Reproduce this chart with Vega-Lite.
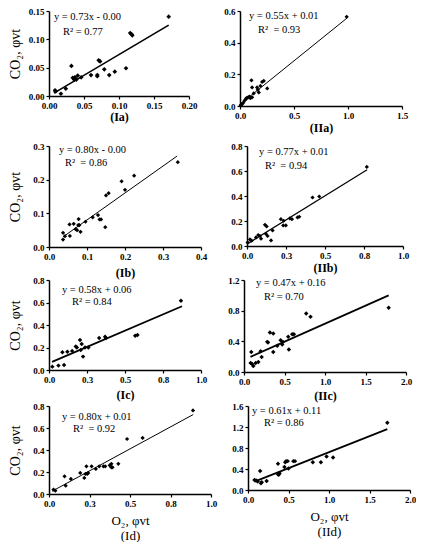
{
  "$schema": "https://vega.github.io/schema/vega-lite/v6.json",
  "description": "CO2 vs O2 scatter panels with linear fits",
  "padding": {"left": 8, "top": 7, "right": 0, "bottom": 0},
  "datasets": {
    "pts": [
      {"panel": "Ia", "x": 0.0086, "y": 0.010}, {"panel": "Ia", "x": 0.0095, "y": 0.008}, {"panel": "Ia", "x": 0.017, "y": 0.004},
      {"panel": "Ia", "x": 0.024, "y": 0.013}, {"panel": "Ia", "x": 0.032, "y": 0.053}, {"panel": "Ia", "x": 0.034, "y": 0.032},
      {"panel": "Ia", "x": 0.036, "y": 0.029}, {"panel": "Ia", "x": 0.037, "y": 0.033}, {"panel": "Ia", "x": 0.039, "y": 0.029},
      {"panel": "Ia", "x": 0.041, "y": 0.036}, {"panel": "Ia", "x": 0.046, "y": 0.033}, {"panel": "Ia", "x": 0.060, "y": 0.037},
      {"panel": "Ia", "x": 0.069, "y": 0.037}, {"panel": "Ia", "x": 0.069, "y": 0.035}, {"panel": "Ia", "x": 0.071, "y": 0.063},
      {"panel": "Ia", "x": 0.073, "y": 0.061}, {"panel": "Ia", "x": 0.079, "y": 0.047}, {"panel": "Ia", "x": 0.086, "y": 0.037},
      {"panel": "Ia", "x": 0.094, "y": 0.043}, {"panel": "Ia", "x": 0.110, "y": 0.049}, {"panel": "Ia", "x": 0.116, "y": 0.111},
      {"panel": "Ia", "x": 0.118, "y": 0.109}, {"panel": "Ia", "x": 0.119, "y": 0.107}, {"panel": "Ia", "x": 0.171, "y": 0.140},

      {"panel": "IIa", "x": 0.006, "y": 0.004}, {"panel": "IIa", "x": 0.012, "y": 0.008}, {"panel": "IIa", "x": 0.019, "y": 0.012},
      {"panel": "IIa", "x": 0.031, "y": 0.021}, {"panel": "IIa", "x": 0.043, "y": 0.035}, {"panel": "IIa", "x": 0.056, "y": 0.045},
      {"panel": "IIa", "x": 0.060, "y": 0.050}, {"panel": "IIa", "x": 0.075, "y": 0.055}, {"panel": "IIa", "x": 0.087, "y": 0.060},
      {"panel": "IIa", "x": 0.096, "y": 0.049}, {"panel": "IIa", "x": 0.106, "y": 0.162}, {"panel": "IIa", "x": 0.112, "y": 0.117},
      {"panel": "IIa", "x": 0.112, "y": 0.055}, {"panel": "IIa", "x": 0.127, "y": 0.080}, {"panel": "IIa", "x": 0.158, "y": 0.117},
      {"panel": "IIa", "x": 0.165, "y": 0.103}, {"panel": "IIa", "x": 0.174, "y": 0.086}, {"panel": "IIa", "x": 0.189, "y": 0.127},
      {"panel": "IIa", "x": 0.205, "y": 0.152}, {"panel": "IIa", "x": 0.220, "y": 0.158}, {"panel": "IIa", "x": 0.252, "y": 0.111},
      {"panel": "IIa", "x": 0.988, "y": 0.563},

      {"panel": "Ib", "x": 0.037, "y": 0.042}, {"panel": "Ib", "x": 0.037, "y": 0.022}, {"panel": "Ib", "x": 0.042, "y": 0.032},
      {"panel": "Ib", "x": 0.055, "y": 0.033}, {"panel": "Ib", "x": 0.054, "y": 0.067}, {"panel": "Ib", "x": 0.065, "y": 0.069},
      {"panel": "Ib", "x": 0.070, "y": 0.053}, {"panel": "Ib", "x": 0.074, "y": 0.050}, {"panel": "Ib", "x": 0.077, "y": 0.065},
      {"panel": "Ib", "x": 0.078, "y": 0.083}, {"panel": "Ib", "x": 0.080, "y": 0.065}, {"panel": "Ib", "x": 0.083, "y": 0.045},
      {"panel": "Ib", "x": 0.096, "y": 0.075}, {"panel": "Ib", "x": 0.115, "y": 0.088}, {"panel": "Ib", "x": 0.129, "y": 0.095},
      {"panel": "Ib", "x": 0.133, "y": 0.082}, {"panel": "Ib", "x": 0.137, "y": 0.082}, {"panel": "Ib", "x": 0.148, "y": 0.059},
      {"panel": "Ib", "x": 0.150, "y": 0.153}, {"panel": "Ib", "x": 0.157, "y": 0.160}, {"panel": "Ib", "x": 0.191, "y": 0.195},
      {"panel": "Ib", "x": 0.200, "y": 0.170}, {"panel": "Ib", "x": 0.224, "y": 0.212}, {"panel": "Ib", "x": 0.339, "y": 0.252},

      {"panel": "IIb", "x": 0.004, "y": 0.029}, {"panel": "IIb", "x": 0.019, "y": 0.053}, {"panel": "IIb", "x": 0.030, "y": 0.043},
      {"panel": "IIb", "x": 0.058, "y": 0.069}, {"panel": "IIb", "x": 0.072, "y": 0.088}, {"panel": "IIb", "x": 0.083, "y": 0.080},
      {"panel": "IIb", "x": 0.090, "y": 0.059}, {"panel": "IIb", "x": 0.115, "y": 0.170}, {"panel": "IIb", "x": 0.126, "y": 0.157},
      {"panel": "IIb", "x": 0.122, "y": 0.096}, {"panel": "IIb", "x": 0.132, "y": 0.080}, {"panel": "IIb", "x": 0.154, "y": 0.045},
      {"panel": "IIb", "x": 0.164, "y": 0.125}, {"panel": "IIb", "x": 0.217, "y": 0.215}, {"panel": "IIb", "x": 0.232, "y": 0.165},
      {"panel": "IIb", "x": 0.235, "y": 0.202}, {"panel": "IIb", "x": 0.249, "y": 0.165}, {"panel": "IIb", "x": 0.275, "y": 0.221},
      {"panel": "IIb", "x": 0.288, "y": 0.215}, {"panel": "IIb", "x": 0.324, "y": 0.229}, {"panel": "IIb", "x": 0.335, "y": 0.234},
      {"panel": "IIb", "x": 0.420, "y": 0.388}, {"panel": "IIb", "x": 0.463, "y": 0.396}, {"panel": "IIb", "x": 0.768, "y": 0.633},

      {"panel": "Ic", "x": 0.022, "y": 0.030}, {"panel": "Ic", "x": 0.062, "y": 0.039}, {"panel": "Ic", "x": 0.099, "y": 0.044},
      {"panel": "Ic", "x": 0.088, "y": 0.157}, {"panel": "Ic", "x": 0.121, "y": 0.163}, {"panel": "Ic", "x": 0.152, "y": 0.170},
      {"panel": "Ic", "x": 0.176, "y": 0.210}, {"panel": "Ic", "x": 0.183, "y": 0.200}, {"panel": "Ic", "x": 0.204, "y": 0.267},
      {"panel": "Ic", "x": 0.209, "y": 0.178}, {"panel": "Ic", "x": 0.215, "y": 0.231}, {"panel": "Ic", "x": 0.224, "y": 0.119},
      {"panel": "Ic", "x": 0.237, "y": 0.200}, {"panel": "Ic", "x": 0.259, "y": 0.200}, {"panel": "Ic", "x": 0.330, "y": 0.284},
      {"panel": "Ic", "x": 0.369, "y": 0.296}, {"panel": "Ic", "x": 0.374, "y": 0.284}, {"panel": "Ic", "x": 0.567, "y": 0.305},
      {"panel": "Ic", "x": 0.582, "y": 0.311}, {"panel": "Ic", "x": 0.868, "y": 0.616},

      {"panel": "IIc", "x": 0.090, "y": 0.262}, {"panel": "IIc", "x": 0.082, "y": 0.118}, {"panel": "IIc", "x": 0.103, "y": 0.100},
      {"panel": "IIc", "x": 0.115, "y": 0.079}, {"panel": "IIc", "x": 0.144, "y": 0.118}, {"panel": "IIc", "x": 0.177, "y": 0.131},
      {"panel": "IIc", "x": 0.205, "y": 0.271}, {"panel": "IIc", "x": 0.218, "y": 0.197}, {"panel": "IIc", "x": 0.287, "y": 0.393},
      {"panel": "IIc", "x": 0.296, "y": 0.384}, {"panel": "IIc", "x": 0.320, "y": 0.515}, {"panel": "IIc", "x": 0.361, "y": 0.502},
      {"panel": "IIc", "x": 0.361, "y": 0.262}, {"panel": "IIc", "x": 0.411, "y": 0.341}, {"panel": "IIc", "x": 0.452, "y": 0.415},
      {"panel": "IIc", "x": 0.472, "y": 0.358}, {"panel": "IIc", "x": 0.480, "y": 0.393}, {"panel": "IIc", "x": 0.546, "y": 0.459},
      {"panel": "IIc", "x": 0.554, "y": 0.293}, {"panel": "IIc", "x": 0.595, "y": 0.493}, {"panel": "IIc", "x": 0.616, "y": 0.493},
      {"panel": "IIc", "x": 0.768, "y": 0.764}, {"panel": "IIc", "x": 0.821, "y": 0.721}, {"panel": "IIc", "x": 1.786, "y": 0.838},

      {"panel": "Id", "x": 0.028, "y": 0.040}, {"panel": "Id", "x": 0.039, "y": 0.030}, {"panel": "Id", "x": 0.096, "y": 0.161},
      {"panel": "Id", "x": 0.103, "y": 0.076}, {"panel": "Id", "x": 0.135, "y": 0.137}, {"panel": "Id", "x": 0.193, "y": 0.191},
      {"panel": "Id", "x": 0.218, "y": 0.146}, {"panel": "Id", "x": 0.225, "y": 0.182}, {"panel": "Id", "x": 0.231, "y": 0.252},
      {"panel": "Id", "x": 0.236, "y": 0.182}, {"panel": "Id", "x": 0.242, "y": 0.191}, {"panel": "Id", "x": 0.263, "y": 0.252},
      {"panel": "Id", "x": 0.289, "y": 0.228}, {"panel": "Id", "x": 0.310, "y": 0.252}, {"panel": "Id", "x": 0.336, "y": 0.252},
      {"panel": "Id", "x": 0.347, "y": 0.252}, {"panel": "Id", "x": 0.375, "y": 0.261}, {"panel": "Id", "x": 0.385, "y": 0.274},
      {"panel": "Id", "x": 0.385, "y": 0.243}, {"panel": "Id", "x": 0.392, "y": 0.243}, {"panel": "Id", "x": 0.428, "y": 0.274},
      {"panel": "Id", "x": 0.482, "y": 0.500}, {"panel": "Id", "x": 0.578, "y": 0.510}, {"panel": "Id", "x": 0.889, "y": 0.760},

      {"panel": "IId", "x": 0.08, "y": 0.19}, {"panel": "IId", "x": 0.10, "y": 0.18}, {"panel": "IId", "x": 0.12, "y": 0.16},
      {"panel": "IId", "x": 0.15, "y": 0.36}, {"panel": "IId", "x": 0.16, "y": 0.13}, {"panel": "IId", "x": 0.17, "y": 0.15},
      {"panel": "IId", "x": 0.23, "y": 0.17}, {"panel": "IId", "x": 0.37, "y": 0.30}, {"panel": "IId", "x": 0.37, "y": 0.50},
      {"panel": "IId", "x": 0.38, "y": 0.29}, {"panel": "IId", "x": 0.39, "y": 0.32}, {"panel": "IId", "x": 0.45, "y": 0.44},
      {"panel": "IId", "x": 0.46, "y": 0.53}, {"panel": "IId", "x": 0.47, "y": 0.55}, {"panel": "IId", "x": 0.49, "y": 0.55},
      {"panel": "IId", "x": 0.50, "y": 0.41}, {"panel": "IId", "x": 0.56, "y": 0.55}, {"panel": "IId", "x": 0.58, "y": 0.55},
      {"panel": "IId", "x": 0.80, "y": 0.53}, {"panel": "IId", "x": 0.90, "y": 0.53}, {"panel": "IId", "x": 0.97, "y": 0.64},
      {"panel": "IId", "x": 1.05, "y": 0.62}, {"panel": "IId", "x": 1.72, "y": 1.28}
    ],
    "fit": [
      {"panel": "Ia", "x": 0.007, "y": 0.005}, {"panel": "Ia", "x": 0.171, "y": 0.125},
      {"panel": "IIa", "x": 0.0, "y": 0.01}, {"panel": "IIa", "x": 0.99, "y": 0.555},
      {"panel": "Ib", "x": 0.037, "y": 0.030}, {"panel": "Ib", "x": 0.337, "y": 0.270},
      {"panel": "IIb", "x": 0.0, "y": 0.015}, {"panel": "IIb", "x": 0.77, "y": 0.61},
      {"panel": "Ic", "x": 0.02, "y": 0.072}, {"panel": "Ic", "x": 0.875, "y": 0.567},
      {"panel": "IIc", "x": 0.08, "y": 0.198}, {"panel": "IIc", "x": 1.786, "y": 1.0},
      {"panel": "Id", "x": 0.02, "y": 0.026}, {"panel": "Id", "x": 0.89, "y": 0.722},
      {"panel": "IId", "x": 0.08, "y": 0.159}, {"panel": "IId", "x": 1.72, "y": 1.159}
    ],
    "notes": [
      {"panel": "Ia", "eq": "y = 0.73x - 0.00", "r2": "R² = 0.77"},
      {"panel": "IIa", "eq": "y = 0.55x + 0.01", "r2": "R²\u00a0 = 0.93"},
      {"panel": "Ib", "eq": "y = 0.80x - 0.00", "r2": "R²\u00a0 = 0.86"},
      {"panel": "IIb", "eq": "y = 0.77x + 0.01", "r2": "R²\u00a0 = 0.94"},
      {"panel": "Ic", "eq": "y = 0.58x + 0.06", "r2": "R² = 0.84"},
      {"panel": "IIc", "eq": "y = 0.47x + 0.16", "r2": "R² = 0.70"},
      {"panel": "Id", "eq": "y = 0.80x + 0.01", "r2": "R²\u00a0 = 0.92"},
      {"panel": "IId", "eq": "y = 0.61x + 0.11", "r2": "R² = 0.86"}
    ]
  },
  "vconcat": [
    {
      "spacing": 9,
      "vconcat": [
        {
          "spacing": 26,
          "hconcat": [
            {
              "width": 140, "height": 85,
              "layer": [
                {"data": {"name": "pts"}, "transform": [{"filter": "datum.panel == 'Ia'"}], "mark": {"type": "point", "shape": "diamond", "filled": true, "size": 22, "color": "black", "opacity": 1},
                 "encoding": {
                   "x": {"field": "x", "type": "quantitative", "title": "(Ia)", "scale": {"domain": [0, 0.2], "nice": false}, "axis": {"values": [0, 0.05, 0.1, 0.15, 0.2], "format": ".2f", "titlePadding": 0}},
                   "y": {"field": "y", "type": "quantitative", "title": "CO₂, φvt", "scale": {"domain": [0, 0.15], "nice": false}, "axis": {"values": [0, 0.05, 0.1, 0.15], "format": ".2f", "minExtent": 24, "maxExtent": 24, "titlePadding": 3, "titleFontSize": 14, "titleFontWeight": "normal"}}}},
                {"data": {"name": "fit"}, "transform": [{"filter": "datum.panel == 'Ia'"}], "mark": {"type": "line", "color": "black", "strokeWidth": 1.6},
                 "encoding": {
                   "x": {"field": "x", "type": "quantitative", "title": "(Ia)", "axis": {"values": [0, 0.05, 0.1, 0.15, 0.2], "format": ".2f", "titlePadding": 0}},
                   "y": {"field": "y", "type": "quantitative", "title": "CO₂, φvt", "axis": {"values": [0, 0.05, 0.1, 0.15], "format": ".2f", "minExtent": 24, "maxExtent": 24, "titlePadding": 3, "titleFontSize": 14, "titleFontWeight": "normal"}}}},
                {"data": {"name": "notes"}, "transform": [{"filter": "datum.panel == 'Ia'"}], "mark": {"type": "text", "align": "left", "baseline": "middle"},
                 "encoding": {
                   "x": {"datum": 0.007, "type": "quantitative", "title": "(Ia)", "axis": {"values": [0, 0.05, 0.1, 0.15, 0.2], "format": ".2f", "titlePadding": 0}},
                   "y": {"datum": 0.139, "type": "quantitative", "title": "CO₂, φvt", "axis": {"values": [0, 0.05, 0.1, 0.15], "format": ".2f", "minExtent": 24, "maxExtent": 24, "titlePadding": 3, "titleFontSize": 14, "titleFontWeight": "normal"}},
                   "text": {"field": "eq", "type": "nominal"}}},
                {"data": {"name": "notes"}, "transform": [{"filter": "datum.panel == 'Ia'"}], "mark": {"type": "text", "align": "left", "baseline": "middle"},
                 "encoding": {
                   "x": {"datum": 0.02, "type": "quantitative", "title": "(Ia)", "axis": {"values": [0, 0.05, 0.1, 0.15, 0.2], "format": ".2f", "titlePadding": 0}},
                   "y": {"datum": 0.113, "type": "quantitative", "title": "CO₂, φvt", "axis": {"values": [0, 0.05, 0.1, 0.15], "format": ".2f", "minExtent": 24, "maxExtent": 24, "titlePadding": 3, "titleFontSize": 14, "titleFontWeight": "normal"}},
                   "text": {"field": "r2", "type": "nominal"}}}
              ]
            },
            {
              "width": 162, "height": 95,
              "layer": [
                {"data": {"name": "pts"}, "transform": [{"filter": "datum.panel == 'IIa'"}], "mark": {"type": "point", "shape": "diamond", "filled": true, "size": 18, "color": "black", "opacity": 1},
                 "encoding": {
                   "x": {"field": "x", "type": "quantitative", "title": "(IIa)", "scale": {"domain": [0, 1.5], "nice": false}, "axis": {"values": [0, 0.5, 1, 1.5], "format": ".1f", "titlePadding": 1}},
                   "y": {"field": "y", "type": "quantitative", "title": null, "scale": {"domain": [0, 0.6], "nice": false}, "axis": {"values": [0, 0.2, 0.4, 0.6], "format": ".1f"}}}},
                {"data": {"name": "fit"}, "transform": [{"filter": "datum.panel == 'IIa'"}], "mark": {"type": "line", "color": "black", "strokeWidth": 1},
                 "encoding": {
                   "x": {"field": "x", "type": "quantitative", "title": "(IIa)", "axis": {"values": [0, 0.5, 1, 1.5], "format": ".1f", "titlePadding": 1}},
                   "y": {"field": "y", "type": "quantitative", "title": null, "axis": {"values": [0, 0.2, 0.4, 0.6], "format": ".1f"}}}},
                {"data": {"name": "notes"}, "transform": [{"filter": "datum.panel == 'IIa'"}], "mark": {"type": "text", "align": "left", "baseline": "middle"},
                 "encoding": {
                   "x": {"datum": 0.083, "type": "quantitative", "title": "(IIa)", "axis": {"values": [0, 0.5, 1, 1.5], "format": ".1f", "titlePadding": 1}},
                   "y": {"datum": 0.568, "type": "quantitative", "title": null, "axis": {"values": [0, 0.2, 0.4, 0.6], "format": ".1f"}},
                   "text": {"field": "eq", "type": "nominal"}}},
                {"data": {"name": "notes"}, "transform": [{"filter": "datum.panel == 'IIa'"}], "mark": {"type": "text", "align": "left", "baseline": "middle"},
                 "encoding": {
                   "x": {"datum": 0.167, "type": "quantitative", "title": "(IIa)", "axis": {"values": [0, 0.5, 1, 1.5], "format": ".1f", "titlePadding": 1}},
                   "y": {"datum": 0.48, "type": "quantitative", "title": null, "axis": {"values": [0, 0.2, 0.4, 0.6], "format": ".1f"}},
                   "text": {"field": "r2", "type": "nominal"}}}
              ]
            }
          ]
        },
        {
          "spacing": 23,
          "hconcat": [
            {
              "width": 152, "height": 101,
              "layer": [
                {"data": {"name": "pts"}, "transform": [{"filter": "datum.panel == 'Ib'"}], "mark": {"type": "point", "shape": "diamond", "filled": true, "size": 18, "color": "black", "opacity": 1},
                 "encoding": {
                   "x": {"field": "x", "type": "quantitative", "title": "(Ib)", "scale": {"domain": [0, 0.4], "nice": false}, "axis": {"values": [0, 0.1, 0.2, 0.3, 0.4], "format": ".1f", "titlePadding": 5}},
                   "y": {"field": "y", "type": "quantitative", "title": "CO₂, φvt", "scale": {"domain": [0, 0.3], "nice": false}, "axis": {"values": [0, 0.1, 0.2, 0.3], "format": ".1f", "minExtent": 24, "maxExtent": 24, "titlePadding": 3, "titleFontSize": 14, "titleFontWeight": "normal"}}}},
                {"data": {"name": "fit"}, "transform": [{"filter": "datum.panel == 'Ib'"}], "mark": {"type": "line", "color": "black", "strokeWidth": 1},
                 "encoding": {
                   "x": {"field": "x", "type": "quantitative", "title": "(Ib)", "axis": {"values": [0, 0.1, 0.2, 0.3, 0.4], "format": ".1f", "titlePadding": 5}},
                   "y": {"field": "y", "type": "quantitative", "title": "CO₂, φvt", "axis": {"values": [0, 0.1, 0.2, 0.3], "format": ".1f", "minExtent": 24, "maxExtent": 24, "titlePadding": 3, "titleFontSize": 14, "titleFontWeight": "normal"}}}},
                {"data": {"name": "notes"}, "transform": [{"filter": "datum.panel == 'Ib'"}], "mark": {"type": "text", "align": "left", "baseline": "middle"},
                 "encoding": {
                   "x": {"datum": 0.026, "type": "quantitative", "title": "(Ib)", "axis": {"values": [0, 0.1, 0.2, 0.3, 0.4], "format": ".1f", "titlePadding": 5}},
                   "y": {"datum": 0.288, "type": "quantitative", "title": "CO₂, φvt", "axis": {"values": [0, 0.1, 0.2, 0.3], "format": ".1f", "minExtent": 24, "maxExtent": 24, "titlePadding": 3, "titleFontSize": 14, "titleFontWeight": "normal"}},
                   "text": {"field": "eq", "type": "nominal"}}},
                {"data": {"name": "notes"}, "transform": [{"filter": "datum.panel == 'Ib'"}], "mark": {"type": "text", "align": "left", "baseline": "middle"},
                 "encoding": {
                   "x": {"datum": 0.042, "type": "quantitative", "title": "(Ib)", "axis": {"values": [0, 0.1, 0.2, 0.3, 0.4], "format": ".1f", "titlePadding": 5}},
                   "y": {"datum": 0.2495, "type": "quantitative", "title": "CO₂, φvt", "axis": {"values": [0, 0.1, 0.2, 0.3], "format": ".1f", "minExtent": 24, "maxExtent": 24, "titlePadding": 3, "titleFontSize": 14, "titleFontWeight": "normal"}},
                   "text": {"field": "r2", "type": "nominal"}}}
              ]
            },
            {
              "width": 156, "height": 100,
              "layer": [
                {"data": {"name": "pts"}, "transform": [{"filter": "datum.panel == 'IIb'"}], "mark": {"type": "point", "shape": "diamond", "filled": true, "size": 18, "color": "black", "opacity": 1},
                 "encoding": {
                   "x": {"field": "x", "type": "quantitative", "title": "(IIb)", "scale": {"domain": [0, 1], "nice": false}, "axis": {"values": [0, 0.25, 0.5, 0.75, 1], "format": ".1f", "titlePadding": 1.5}},
                   "y": {"field": "y", "type": "quantitative", "title": null, "scale": {"domain": [0, 0.8], "nice": false}, "axis": {"values": [0, 0.2, 0.4, 0.6, 0.8], "format": ".1f"}}}},
                {"data": {"name": "fit"}, "transform": [{"filter": "datum.panel == 'IIb'"}], "mark": {"type": "line", "color": "black", "strokeWidth": 1.2},
                 "encoding": {
                   "x": {"field": "x", "type": "quantitative", "title": "(IIb)", "axis": {"values": [0, 0.25, 0.5, 0.75, 1], "format": ".1f", "titlePadding": 1.5}},
                   "y": {"field": "y", "type": "quantitative", "title": null, "axis": {"values": [0, 0.2, 0.4, 0.6, 0.8], "format": ".1f"}}}},
                {"data": {"name": "notes"}, "transform": [{"filter": "datum.panel == 'IIb'"}], "mark": {"type": "text", "align": "left", "baseline": "middle"},
                 "encoding": {
                   "x": {"datum": 0.077, "type": "quantitative", "title": "(IIb)", "axis": {"values": [0, 0.25, 0.5, 0.75, 1], "format": ".1f", "titlePadding": 1.5}},
                   "y": {"datum": 0.752, "type": "quantitative", "title": null, "axis": {"values": [0, 0.2, 0.4, 0.6, 0.8], "format": ".1f"}},
                   "text": {"field": "eq", "type": "nominal"}}},
                {"data": {"name": "notes"}, "transform": [{"filter": "datum.panel == 'IIb'"}], "mark": {"type": "text", "align": "left", "baseline": "middle"},
                 "encoding": {
                   "x": {"datum": 0.115, "type": "quantitative", "title": "(IIb)", "axis": {"values": [0, 0.25, 0.5, 0.75, 1], "format": ".1f", "titlePadding": 1.5}},
                   "y": {"datum": 0.64, "type": "quantitative", "title": null, "axis": {"values": [0, 0.2, 0.4, 0.6, 0.8], "format": ".1f"}},
                   "text": {"field": "r2", "type": "nominal"}}}
              ]
            }
          ]
        }
      ]
    },
    {
      "spacing": 0,
      "vconcat": [
        {
          "spacing": 20,
          "hconcat": [
            {
              "width": 152, "height": 90,
              "layer": [
                {"data": {"name": "pts"}, "transform": [{"filter": "datum.panel == 'Ic'"}], "mark": {"type": "point", "shape": "diamond", "filled": true, "size": 20, "color": "black", "opacity": 1},
                 "encoding": {
                   "x": {"field": "x", "type": "quantitative", "title": "(Ic)", "scale": {"domain": [0, 1], "nice": false}, "axis": {"values": [0, 0.25, 0.5, 0.75, 1], "format": ".1f", "titlePadding": 4.5}},
                   "y": {"field": "y", "type": "quantitative", "title": "CO₂, φvt", "scale": {"domain": [0, 0.8], "nice": false}, "axis": {"values": [0, 0.2, 0.4, 0.6, 0.8], "format": ".1f", "minExtent": 24, "maxExtent": 24, "titlePadding": 3, "titleFontSize": 14, "titleFontWeight": "normal"}}}},
                {"data": {"name": "fit"}, "transform": [{"filter": "datum.panel == 'Ic'"}], "mark": {"type": "line", "color": "black", "strokeWidth": 1.8},
                 "encoding": {
                   "x": {"field": "x", "type": "quantitative", "title": "(Ic)", "axis": {"values": [0, 0.25, 0.5, 0.75, 1], "format": ".1f", "titlePadding": 4.5}},
                   "y": {"field": "y", "type": "quantitative", "title": "CO₂, φvt", "axis": {"values": [0, 0.2, 0.4, 0.6, 0.8], "format": ".1f", "minExtent": 24, "maxExtent": 24, "titlePadding": 3, "titleFontSize": 14, "titleFontWeight": "normal"}}}},
                {"data": {"name": "notes"}, "transform": [{"filter": "datum.panel == 'Ic'"}], "mark": {"type": "text", "align": "left", "baseline": "middle"},
                 "encoding": {
                   "x": {"datum": 0.0855, "type": "quantitative", "title": "(Ic)", "axis": {"values": [0, 0.25, 0.5, 0.75, 1], "format": ".1f", "titlePadding": 4.5}},
                   "y": {"datum": 0.711, "type": "quantitative", "title": "CO₂, φvt", "axis": {"values": [0, 0.2, 0.4, 0.6, 0.8], "format": ".1f", "minExtent": 24, "maxExtent": 24, "titlePadding": 3, "titleFontSize": 14, "titleFontWeight": "normal"}},
                   "text": {"field": "eq", "type": "nominal"}}},
                {"data": {"name": "notes"}, "transform": [{"filter": "datum.panel == 'Ic'"}], "mark": {"type": "text", "align": "left", "baseline": "middle"},
                 "encoding": {
                   "x": {"datum": 0.151, "type": "quantitative", "title": "(Ic)", "axis": {"values": [0, 0.25, 0.5, 0.75, 1], "format": ".1f", "titlePadding": 4.5}},
                   "y": {"datum": 0.604, "type": "quantitative", "title": "CO₂, φvt", "axis": {"values": [0, 0.2, 0.4, 0.6, 0.8], "format": ".1f", "minExtent": 24, "maxExtent": 24, "titlePadding": 3, "titleFontSize": 14, "titleFontWeight": "normal"}},
                   "text": {"field": "r2", "type": "nominal"}}}
              ]
            },
            {
              "width": 162, "height": 92,
              "layer": [
                {"data": {"name": "pts"}, "transform": [{"filter": "datum.panel == 'IIc'"}], "mark": {"type": "point", "shape": "diamond", "filled": true, "size": 20, "color": "black", "opacity": 1},
                 "encoding": {
                   "x": {"field": "x", "type": "quantitative", "title": "(IIc)", "scale": {"domain": [0, 2], "nice": false}, "axis": {"values": [0, 0.5, 1, 1.5, 2], "format": ".1f", "titlePadding": 3.5}},
                   "y": {"field": "y", "type": "quantitative", "title": null, "scale": {"domain": [0, 1.2], "nice": false}, "axis": {"values": [0, 0.4, 0.8, 1.2], "format": ".1f"}}}},
                {"data": {"name": "fit"}, "transform": [{"filter": "datum.panel == 'IIc'"}], "mark": {"type": "line", "color": "black", "strokeWidth": 1.8},
                 "encoding": {
                   "x": {"field": "x", "type": "quantitative", "title": "(IIc)", "axis": {"values": [0, 0.5, 1, 1.5, 2], "format": ".1f", "titlePadding": 3.5}},
                   "y": {"field": "y", "type": "quantitative", "title": null, "axis": {"values": [0, 0.4, 0.8, 1.2], "format": ".1f"}}}},
                {"data": {"name": "notes"}, "transform": [{"filter": "datum.panel == 'IIc'"}], "mark": {"type": "text", "align": "left", "baseline": "middle"},
                 "encoding": {
                   "x": {"datum": 0.148, "type": "quantitative", "title": "(IIc)", "axis": {"values": [0, 0.5, 1, 1.5, 2], "format": ".1f", "titlePadding": 3.5}},
                   "y": {"datum": 1.161, "type": "quantitative", "title": null, "axis": {"values": [0, 0.4, 0.8, 1.2], "format": ".1f"}},
                   "text": {"field": "eq", "type": "nominal"}}},
                {"data": {"name": "notes"}, "transform": [{"filter": "datum.panel == 'IIc'"}], "mark": {"type": "text", "align": "left", "baseline": "middle"},
                 "encoding": {
                   "x": {"datum": 0.247, "type": "quantitative", "title": "(IIc)", "axis": {"values": [0, 0.5, 1, 1.5, 2], "format": ".1f", "titlePadding": 3.5}},
                   "y": {"datum": 0.978, "type": "quantitative", "title": null, "axis": {"values": [0, 0.4, 0.8, 1.2], "format": ".1f"}},
                   "text": {"field": "r2", "type": "nominal"}}}
              ]
            }
          ]
        },
        {
          "spacing": 14,
          "hconcat": [
            {
              "width": 162, "height": 88,
              "layer": [
                {"data": {"name": "pts"}, "transform": [{"filter": "datum.panel == 'Id'"}], "mark": {"type": "point", "shape": "diamond", "filled": true, "size": 18, "color": "black", "opacity": 1},
                 "encoding": {
                   "x": {"field": "x", "type": "quantitative", "title": ["O₂, φvt", "(Id)"], "scale": {"domain": [0, 1], "nice": false}, "axis": {"values": [0, 0.25, 0.5, 0.75, 1], "format": ".1f", "titlePadding": 5, "titleFontWeight": "normal", "titleFontSize": 13, "titleLineHeight": 15}},
                   "y": {"field": "y", "type": "quantitative", "title": "CO₂, φvt", "scale": {"domain": [0, 0.8], "nice": false}, "axis": {"values": [0, 0.2, 0.4, 0.6, 0.8], "format": ".1f", "minExtent": 24, "maxExtent": 24, "titlePadding": 3, "titleFontSize": 14, "titleFontWeight": "normal"}}}},
                {"data": {"name": "fit"}, "transform": [{"filter": "datum.panel == 'Id'"}], "mark": {"type": "line", "color": "black", "strokeWidth": 1},
                 "encoding": {
                   "x": {"field": "x", "type": "quantitative", "title": ["O₂, φvt", "(Id)"], "axis": {"values": [0, 0.25, 0.5, 0.75, 1], "format": ".1f", "titlePadding": 5, "titleFontWeight": "normal", "titleFontSize": 13, "titleLineHeight": 15}},
                   "y": {"field": "y", "type": "quantitative", "title": "CO₂, φvt", "axis": {"values": [0, 0.2, 0.4, 0.6, 0.8], "format": ".1f", "minExtent": 24, "maxExtent": 24, "titlePadding": 3, "titleFontSize": 14, "titleFontWeight": "normal"}}}},
                {"data": {"name": "notes"}, "transform": [{"filter": "datum.panel == 'Id'"}], "mark": {"type": "text", "align": "left", "baseline": "middle"},
                 "encoding": {
                   "x": {"datum": 0.08, "type": "quantitative", "title": ["O₂, φvt", "(Id)"], "axis": {"values": [0, 0.25, 0.5, 0.75, 1], "format": ".1f", "titlePadding": 5, "titleFontWeight": "normal", "titleFontSize": 13, "titleLineHeight": 15}},
                   "y": {"datum": 0.70, "type": "quantitative", "title": "CO₂, φvt", "axis": {"values": [0, 0.2, 0.4, 0.6, 0.8], "format": ".1f", "minExtent": 24, "maxExtent": 24, "titlePadding": 3, "titleFontSize": 14, "titleFontWeight": "normal"}},
                   "text": {"field": "eq", "type": "nominal"}}},
                {"data": {"name": "notes"}, "transform": [{"filter": "datum.panel == 'Id'"}], "mark": {"type": "text", "align": "left", "baseline": "middle"},
                 "encoding": {
                   "x": {"datum": 0.148, "type": "quantitative", "title": ["O₂, φvt", "(Id)"], "axis": {"values": [0, 0.25, 0.5, 0.75, 1], "format": ".1f", "titlePadding": 5, "titleFontWeight": "normal", "titleFontSize": 13, "titleLineHeight": 15}},
                   "y": {"datum": 0.591, "type": "quantitative", "title": "CO₂, φvt", "axis": {"values": [0, 0.2, 0.4, 0.6, 0.8], "format": ".1f", "minExtent": 24, "maxExtent": 24, "titlePadding": 3, "titleFontSize": 14, "titleFontWeight": "normal"}},
                   "text": {"field": "r2", "type": "nominal"}}}
              ]
            },
            {
              "width": 162, "height": 84,
              "layer": [
                {"data": {"name": "pts"}, "transform": [{"filter": "datum.panel == 'IId'"}], "mark": {"type": "point", "shape": "diamond", "filled": true, "size": 20, "color": "black", "opacity": 1},
                 "encoding": {
                   "x": {"field": "x", "type": "quantitative", "title": ["O₂, φvt", "(IId)"], "scale": {"domain": [0, 2], "nice": false}, "axis": {"values": [0, 0.5, 1, 1.5, 2], "format": ".1f", "titlePadding": 5, "titleFontWeight": "normal", "titleFontSize": 13, "titleLineHeight": 15}},
                   "y": {"field": "y", "type": "quantitative", "title": null, "scale": {"domain": [0, 1.6], "nice": false}, "axis": {"values": [0, 0.4, 0.8, 1.2, 1.6], "format": ".1f"}}}},
                {"data": {"name": "fit"}, "transform": [{"filter": "datum.panel == 'IId'"}], "mark": {"type": "line", "color": "black", "strokeWidth": 1.8},
                 "encoding": {
                   "x": {"field": "x", "type": "quantitative", "title": ["O₂, φvt", "(IId)"], "axis": {"values": [0, 0.5, 1, 1.5, 2], "format": ".1f", "titlePadding": 5, "titleFontWeight": "normal", "titleFontSize": 13, "titleLineHeight": 15}},
                   "y": {"field": "y", "type": "quantitative", "title": null, "axis": {"values": [0, 0.4, 0.8, 1.2, 1.6], "format": ".1f"}}}},
                {"data": {"name": "notes"}, "transform": [{"filter": "datum.panel == 'IId'"}], "mark": {"type": "text", "align": "left", "baseline": "middle"},
                 "encoding": {
                   "x": {"datum": 0.049, "type": "quantitative", "title": ["O₂, φvt", "(IId)"], "axis": {"values": [0, 0.5, 1, 1.5, 2], "format": ".1f", "titlePadding": 5, "titleFontWeight": "normal", "titleFontSize": 13, "titleLineHeight": 15}},
                   "y": {"datum": 1.505, "type": "quantitative", "title": null, "axis": {"values": [0, 0.4, 0.8, 1.2, 1.6], "format": ".1f"}},
                   "text": {"field": "eq", "type": "nominal"}}},
                {"data": {"name": "notes"}, "transform": [{"filter": "datum.panel == 'IId'"}], "mark": {"type": "text", "align": "left", "baseline": "middle"},
                 "encoding": {
                   "x": {"datum": 0.198, "type": "quantitative", "title": ["O₂, φvt", "(IId)"], "axis": {"values": [0, 0.5, 1, 1.5, 2], "format": ".1f", "titlePadding": 5, "titleFontWeight": "normal", "titleFontSize": 13, "titleLineHeight": 15}},
                   "y": {"datum": 1.276, "type": "quantitative", "title": null, "axis": {"values": [0, 0.4, 0.8, 1.2, 1.6], "format": ".1f"}},
                   "text": {"field": "r2", "type": "nominal"}}}
              ]
            }
          ]
        }
      ]
    }
  ],
  "spacing": -2,
  "config": {
    "view": {"stroke": null},
    "text": {"font": "Liberation Serif", "fontSize": 10.5, "color": "black"},
    "axis": {
      "grid": false,
      "domainColor": "black", "domainWidth": 1.5,
      "tickColor": "black", "tickWidth": 1.2, "tickSize": 3,
      "labelColor": "black", "labelFont": "Liberation Serif", "labelFontSize": 9, "labelFontWeight": "bold", "labelPadding": 2,
      "labelFlush": false, "labelOverlap": false,
      "titleColor": "black", "titleFont": "Liberation Serif", "titleFontSize": 12, "titleFontWeight": "bold"
    },
    "axisX": {"minExtent": 15, "maxExtent": 15}
  }
}
